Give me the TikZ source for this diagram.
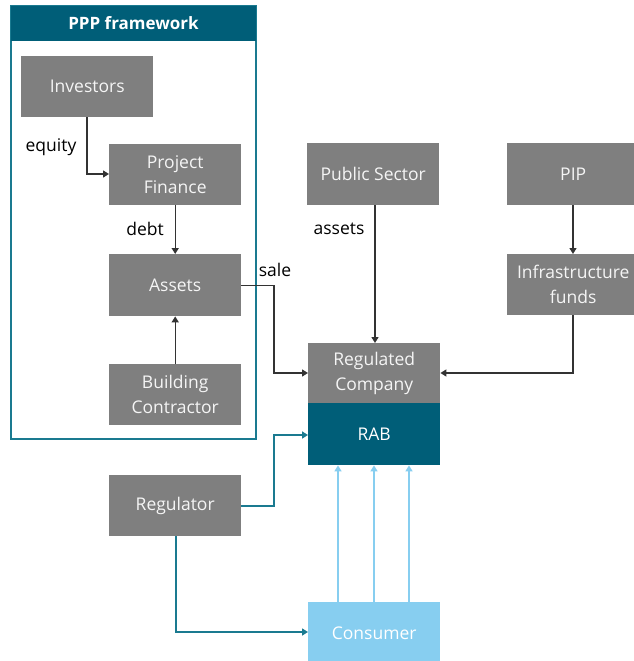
\documentclass[tikz,border=0pt]{standalone}
\usepackage{fontspec}
\setmainfont{Open Sans}
\usetikzlibrary{arrows.meta}
\definecolor{boxgray}{HTML}{7F7F7F}
\definecolor{tealdark}{HTML}{005E78}
\definecolor{tealline}{HTML}{1A7A90}
\definecolor{lightblue}{HTML}{87CEF0}
\definecolor{linedark}{HTML}{333333}
\tikzset{
  gbox/.style={fill=boxgray, draw=none, text=white!92!gray, minimum width=132pt, align=center, inner sep=0pt, font=\fontsize{17.5}{25}\selectfont, anchor=north west},
  lbl/.style={text=black, font=\fontsize{17.5}{21}\selectfont, inner sep=0pt},
  darr/.style={draw=linedark, line width=1.4pt, -{Triangle[width=7pt,length=6pt]}},
  tarr/.style={draw=tealline, line width=1.6pt, -{Triangle[width=7pt,length=6pt]}},
  barr/.style={draw=lightblue, line width=1.6pt, -{Triangle[width=7pt,length=6pt]}},
}
\begin{document}
\begin{tikzpicture}[x=1pt,y=-1pt]
\useasboundingbox (0,0) rectangle (633,661);
\fill[white] (0,0) rectangle (633,661);
% PPP frame
\draw[tealline, line width=2.6pt] (11,6) rectangle (256,439);
\fill[tealdark] (11,6) rectangle (256,41);
\node[text=white, font=\fontsize{17}{20}\selectfont\bfseries] (ppp) at (133.5,23.5) {PPP framework};
% nodes
\node[gbox, minimum height=61pt] (inv) at (21,56) {Investors};
\node[gbox, minimum height=61pt] (pf) at (109,144) {Project\\Finance};
\node[gbox, minimum height=62pt] (ass) at (109,254) {Assets};
\node[gbox, minimum height=61pt] (bc) at (109,364) {Building\\Contractor};
\node[gbox, minimum height=62pt] (ps) at (307,143) {Public Sector};
\node[gbox, minimum height=62pt] (pip) at (507,143) {PIP};
\node[gbox, minimum height=61pt] (inf) at (507,254) {Infrastructure\\funds};
\node[gbox, minimum height=60pt] (rc) at (308,343) {Regulated\\Company};
\node[gbox, fill=tealdark, text=white, minimum height=62pt] (rab) at (308,403) {RAB};
\node[gbox, minimum height=61pt] (reg) at (109,475) {Regulator};
\node[gbox, fill=lightblue, text=white, minimum height=62pt] (con) at (308,602) {Consumer};
% labels
\node[lbl] (leq) at (51,147) {equity};
\node[lbl] (ldebt) at (145,229) {debt};
\node[lbl] (lsale) at (275,270) {sale};
\node[lbl] (lassets) at (339,229) {assets};
% connectors
\coordinate (c1) at (87,174);
\draw[darr] (inv.south west -| c1) |- (pf.west |- c1);
\draw[darr] (pf.south) -- (ass.north);
\draw[darr] (bc.north) -- (ass.south);
\coordinate (sx) at (274,373);
\draw[darr] (ass.east) -| (sx) -- (rc.west |- sx);
\draw[darr] (ps.south -| 375,0) -- (rc.north -| 375,0);
\draw[darr] (pip.south -| 573,0) -- (inf.north -| 573,0);
\draw[darr] (inf.south -| 573,0) |- (rc.east |- sx);
\coordinate (rx) at (274,435);
\draw[tarr] (reg.east) -| (rx) -- (rab.west |- rx);
\coordinate (cy) at (176,632);
\draw[tarr] (reg.south -| cy) |- (con.west |- cy);
\foreach \xx/\nm in {338/a,374/b,409/c} {
  \draw[barr] (con.north -| \xx,0) -- (rab.south -| \xx,0);
}
\end{tikzpicture}
\end{document}
